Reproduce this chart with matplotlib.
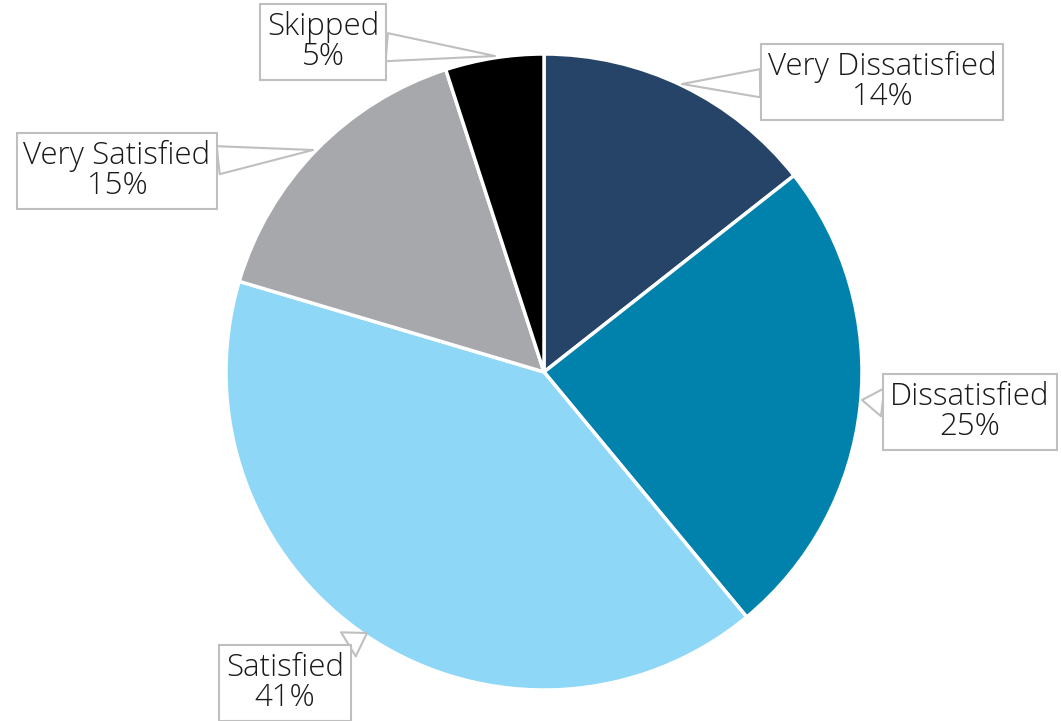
import matplotlib
matplotlib.use("Agg")
import matplotlib.pyplot as plt

categories = ["Very Dissatisfied", "Dissatisfied", "Satisfied", "Very Satisfied", "Skipped"]
values = [14.4, 24.6, 40.6, 15.4, 5.0]
pct_labels = ["14%", "25%", "41%", "15%", "5%"]
colors = ["#264468", "#0082ad", "#8fd7f6", "#a7a8ab", "#000000"]

W, H = 1061, 721
fig = plt.figure(figsize=(W / 100, H / 100), dpi=100)
ax = fig.add_axes([0, 0, 1, 1])

cx, cy, r = 544, H - 372, 318
wedges, _ = ax.pie(values, colors=colors, startangle=90, counterclock=False,
                   center=(cx, cy), radius=r, frame=True,
                   wedgeprops=dict(edgecolor="white", linewidth=2.5))
ax.set_xlim(0, W)
ax.set_ylim(0, H)
ax.set_aspect("equal")
ax.axis("off")

# label box centres and pointer tips (pixel coords, y from top)
box_pos = [(882, 82), (970, 412), (285, 683), (117, 171), (323, 42)]
tips = [(682, 84), (862, 400), (367, 633), (313, 150), (495, 56)]

for cat, pl, (bx, by), (tx, ty) in zip(categories, pct_labels, box_pos, tips):
    ax.annotate(f"{cat}\n{pl}", xy=(tx, H - ty), xytext=(bx, H - by),
                ha="center", va="center", fontsize=22.5, family="Open Sans",
                fontweight="light", color="#1a1a1a", linespacing=0.92,
                bbox=dict(boxstyle="square,pad=0.22", fc="white", ec="#bfbfbf", lw=1.5),
                arrowprops=dict(arrowstyle="wedge,tail_width=0.9,shrink_factor=0.5",
                                fc="white", ec="#bfbfbf", lw=1.5,
                                shrinkA=0, shrinkB=0))

fig.savefig("out.png", dpi=100, facecolor="white")
